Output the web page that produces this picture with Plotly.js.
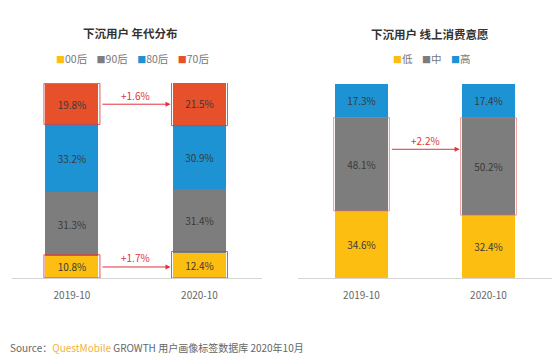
<!DOCTYPE html>
<html>
<head>
<meta charset="utf-8">
<script src="https://cdn.plot.ly/plotly-3.0.1.min.js"></script>
<style>html,body{margin:0;padding:0;background:#fff;}#chart{width:554px;height:361px;}</style>
</head>
<body>
<div id="chart"></div>
<script>
// ---- data ----
const years = ['2019-10', '2020-10'];
const ageNames = ['00后', '90后', '80后', '70后'];
const age00 = [10.8, 12.4];
const age90 = [31.3, 31.4];
const age80 = [33.2, 30.9];
const age70 = [19.8, 21.5];
const intentNames = ['低', '中', '高'];
const intentLow = [34.6, 32.4];
const intentMid = [48.1, 50.2];
const intentHigh = [17.3, 17.4];
const ageDeltaTop = '+1.6%';
const ageDeltaBottom = '+1.7%';
const intentDelta = '+2.2%';
const titles = ['下沉用户 年代分布', '下沉用户 线上消费意愿'];

// ---- style ----
const FONT = '"Noto Sans CJK SC", "Noto Sans", sans-serif';
const C_YEL = '#FDBE12', C_GRY = '#7d7d7d', C_BLU = '#1D93D3', C_RED = '#E6502B';
const RED_LINE = 'rgba(222,60,60,0.85)';
const BW = 0.415, HW = BW / 2;
const idx = [0, 1];

function barTrace(vals, name, color, xa, ya) {
  return {
    type: 'bar', x: idx, y: vals, name: name, xaxis: xa, yaxis: ya,
    marker: {color: color, line: {width: 0}},
    width: BW,
    text: vals.map(v => v.toFixed(1) + '%'),
    textposition: 'inside', insidetextanchor: 'middle', textangle: 0,
    constraintext: 'none',
    textfont: {family: FONT, size: 10, color: '#3a3a3a'},
    hoverinfo: 'skip', showlegend: false
  };
}

const data = [
  barTrace(age00, ageNames[0], C_YEL, 'x', 'y'),
  barTrace(age90, ageNames[1], C_GRY, 'x', 'y'),
  barTrace(age80, ageNames[2], C_BLU, 'x', 'y'),
  barTrace(age70, ageNames[3], C_RED, 'x', 'y'),
  barTrace(intentLow, intentNames[0], C_YEL, 'x2', 'y2'),
  barTrace(intentMid, intentNames[1], C_GRY, 'x2', 'y2'),
  barTrace(intentHigh, intentNames[2], C_BLU, 'x2', 'y2')
];

// cumulative helpers
const ageBelow70 = idx.map(i => age00[i] + age90[i] + age80[i]);
const ageTop = idx.map(i => ageBelow70[i] + age70[i]);

const pad = 0.012;
const shapes = [];
idx.forEach(i => {
  shapes.push({type: 'rect', xref: 'x', yref: 'y', x0: i - HW - pad, x1: i + HW + pad,
    y0: ageBelow70[i], y1: ageTop[i] + 0.3, line: {color: RED_LINE, width: 1}});
  shapes.push({type: 'rect', xref: 'x', yref: 'y', x0: i - HW - pad, x1: i + HW + pad,
    y0: 0, y1: age00[i] + 0.6, line: {color: RED_LINE, width: 1}});
  shapes.push({type: 'rect', xref: 'x2', yref: 'y2', x0: i - HW - pad, x1: i + HW + pad,
    y0: intentLow[i], y1: intentLow[i] + intentMid[i], line: {color: 'rgba(230,110,110,0.7)', width: 1}});
});

function arrow(xr, yr, yv) {
  return {xref: xr, yref: yr, axref: xr, ayref: yr, x: 1 - HW - 0.02, y: yv, ax: HW + 0.02, ay: yv,
    text: '', showarrow: true, arrowhead: 2, arrowsize: 1, arrowwidth: 1, arrowcolor: '#E0323C'};
}
function dlabel(xr, yr, yv, t) {
  return {xref: xr, yref: yr, x: 0.5, y: yv, text: t, showarrow: false, xanchor: 'center',
    font: {family: FONT, size: 10, color: '#E0323C'}};
}
const yTopArrow = ageBelow70[0] + age70[0] / 2;
const yBotArrow = age00[0] / 2;
const yRightArrow = intentLow[0] + intentMid[0] * 0.66;

const sq = c => '<span style="color:' + c + ';font-size:9px">■</span>';
const gap = '&nbsp;&nbsp;&nbsp;&nbsp;';
const annotations = [
  arrow('x', 'y', yTopArrow), dlabel('x', 'y', yTopArrow + 4.4, ageDeltaTop),
  arrow('x', 'y', yBotArrow), dlabel('x', 'y', yBotArrow + 4.6, ageDeltaBottom),
  arrow('x2', 'y2', yRightArrow), dlabel('x2', 'y2', yRightArrow + 4.4, intentDelta),
  {xref: 'paper', yref: 'paper', x: 130 / 554, y: 1 - 33 / 361, xanchor: 'center', yanchor: 'middle',
    text: '<b>' + titles[0] + '</b>', showarrow: false,
    font: {family: FONT, size: 11.5, color: '#333'}},
  {xref: 'paper', yref: 'paper', x: 430 / 554, y: 1 - 34 / 361, xanchor: 'center', yanchor: 'middle',
    text: '<b>' + titles[1] + '</b>', showarrow: false,
    font: {family: FONT, size: 11.5, color: '#333'}},
  {xref: 'paper', yref: 'paper', x: 132 / 554, y: 1 - 58 / 361, xanchor: 'center', yanchor: 'middle', showarrow: false,
    text: sq(C_YEL) + ageNames[0] + gap + sq(C_GRY) + ageNames[1] + gap + sq(C_BLU) + ageNames[2] + gap + sq(C_RED) + ageNames[3],
    font: {family: FONT, size: 10.5, color: '#777'}},
  {xref: 'paper', yref: 'paper', x: 431 / 554, y: 1 - 58 / 361, xanchor: 'center', yanchor: 'middle', showarrow: false,
    text: sq(C_YEL) + intentNames[0] + gap + sq(C_GRY) + intentNames[1] + gap + sq(C_BLU) + intentNames[2],
    font: {family: FONT, size: 10.5, color: '#777'}},
  {xref: 'paper', yref: 'paper', x: 8 / 554, y: 1 - 347 / 361, xanchor: 'left', yanchor: 'middle', showarrow: false,
    text: 'Source：<span style="color:#F2B33D">QuestMobile</span> GROWTH 用户画像标签数据库 2020年10月',
    font: {family: FONT, size: 10, color: '#666'}}
];

const xbase = {
  type: 'linear', tickmode: 'array', tickvals: idx, ticktext: years,
  showgrid: false, zeroline: false, showline: true, linecolor: '#d4d4d4', linewidth: 1,
  ticks: '', ticklabelstandoff: 8, tickfont: {family: FONT, size: 10, color: '#666'}, fixedrange: true
};
const layout = {
  width: 554, height: 361, margin: {l: 0, r: 0, t: 0, b: 0},
  paper_bgcolor: '#fff', plot_bgcolor: 'rgba(0,0,0,0)',
  barmode: 'stack', showlegend: false,
  xaxis: Object.assign({}, xbase, {domain: [12 / 554, 262 / 554], range: [-0.47, 1.49], anchor: 'y'}),
  yaxis: {domain: [1 - 278 / 361, 1 - 83 / 361], range: [0, 95.6], visible: false, fixedrange: true},
  xaxis2: Object.assign({}, xbase, {domain: [298 / 554, 552 / 554], range: [-0.5, 1.5], anchor: 'y2'}),
  yaxis2: {domain: [1 - 278 / 361, 1 - 84 / 361], range: [0, 100], visible: false, fixedrange: true},
  shapes: shapes, annotations: annotations
};
Plotly.newPlot('chart', data, layout, {displayModeBar: false, staticPlot: true});
</script>
</body>
</html>
